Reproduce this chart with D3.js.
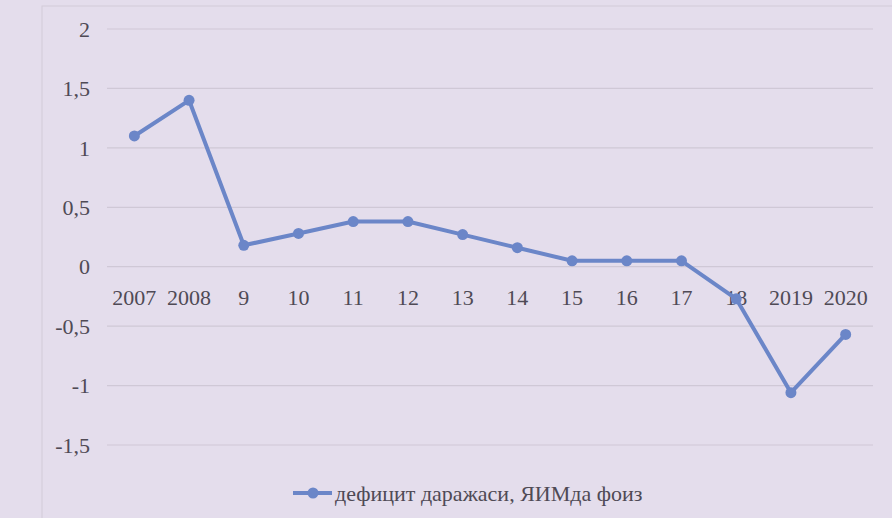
<!DOCTYPE html>
<html>
<head>
<meta charset="utf-8">
<script src="https://cdn.jsdelivr.net/npm/d3@7"></script>
<style>
  body { margin: 0; background: #e4ddec; }
  svg { display: block; }
  text { font-family: "Liberation Serif", "DejaVu Serif", serif; fill: #4f4a55; }
</style>
</head>
<body>
<svg id="chart" width="892" height="518"></svg>
<script>
const years = ['2007', '2008', '9', '10', '11', '12', '13', '14', '15', '16', '17', '18', '2019', '2020']
const deficit = [1.1, 1.4, 0.18, 0.28, 0.38, 0.38, 0.27, 0.16, 0.05, 0.05, 0.05, -0.27, -1.06, -0.57]
const yTicks = [2, 1.5, 1, 0.5, 0, -0.5, -1, -1.5]
const seriesName = 'дефицит даражаси, ЯИМда фоиз'

const width = 892, height = 518
const svg = d3.select('#chart')

// faint outer frame of the chart area
svg.append('rect')
  .attr('x', 42).attr('y', 6)
  .attr('width', 880).attr('height', 540)
  .attr('fill', 'none')
  .attr('stroke', '#d2cbd8')
  .attr('stroke-width', 1)

const x = d3.scaleBand().domain(years).range([107, 873])
const y = d3.scaleLinear().domain([-1.5, 2]).range([445, 29])

// gridlines
svg.append('g')
  .selectAll('line')
  .data(yTicks)
  .join('line')
    .attr('x1', 107).attr('x2', 873)
    .attr('y1', d => y(d)).attr('y2', d => y(d))
    .attr('stroke', '#cfc8d6')
    .attr('stroke-width', 1.2)

// y axis labels (decimal comma)
const fmt = d => String(d).replace('.', ',')
svg.append('g')
  .selectAll('text')
  .data(yTicks)
  .join('text')
    .attr('x', 90)
    .attr('y', d => y(d))
    .attr('dy', '0.35em')
    .attr('text-anchor', 'end')
    .attr('font-size', 22)
    .text(fmt)

// category labels sit just under the zero line
svg.append('g')
  .selectAll('text')
  .data(years)
  .join('text')
    .attr('x', d => x(d) + x.bandwidth() / 2)
    .attr('y', y(0) + 38)
    .attr('text-anchor', 'middle')
    .attr('font-size', 22)
    .text(d => d)

const lineColor = '#6b86c8'
const pts = years.map((d, i) => ({ year: d, v: deficit[i] }))

svg.append('path')
  .datum(pts)
  .attr('fill', 'none')
  .attr('stroke', lineColor)
  .attr('stroke-width', 4)
  .attr('stroke-linejoin', 'round')
  .attr('d', d3.line().x(d => x(d.year) + x.bandwidth() / 2).y(d => y(d.v)))

svg.append('g')
  .selectAll('circle')
  .data(pts)
  .join('circle')
    .attr('cx', d => x(d.year) + x.bandwidth() / 2)
    .attr('cy', d => y(d.v))
    .attr('r', 5.5)
    .attr('fill', lineColor)

// legend
const lg = svg.append('g').attr('transform', 'translate(293,493)')
lg.append('line').attr('x1', 0).attr('x2', 39).attr('y1', 0).attr('y2', 0)
  .attr('stroke', lineColor).attr('stroke-width', 4)
lg.append('circle').attr('cx', 20).attr('cy', 0).attr('r', 5.5).attr('fill', lineColor)
lg.append('text').attr('x', 42).attr('y', 0).attr('dy', '0.35em')
  .attr('font-size', 22).text(seriesName)
</script>
</body>
</html>
